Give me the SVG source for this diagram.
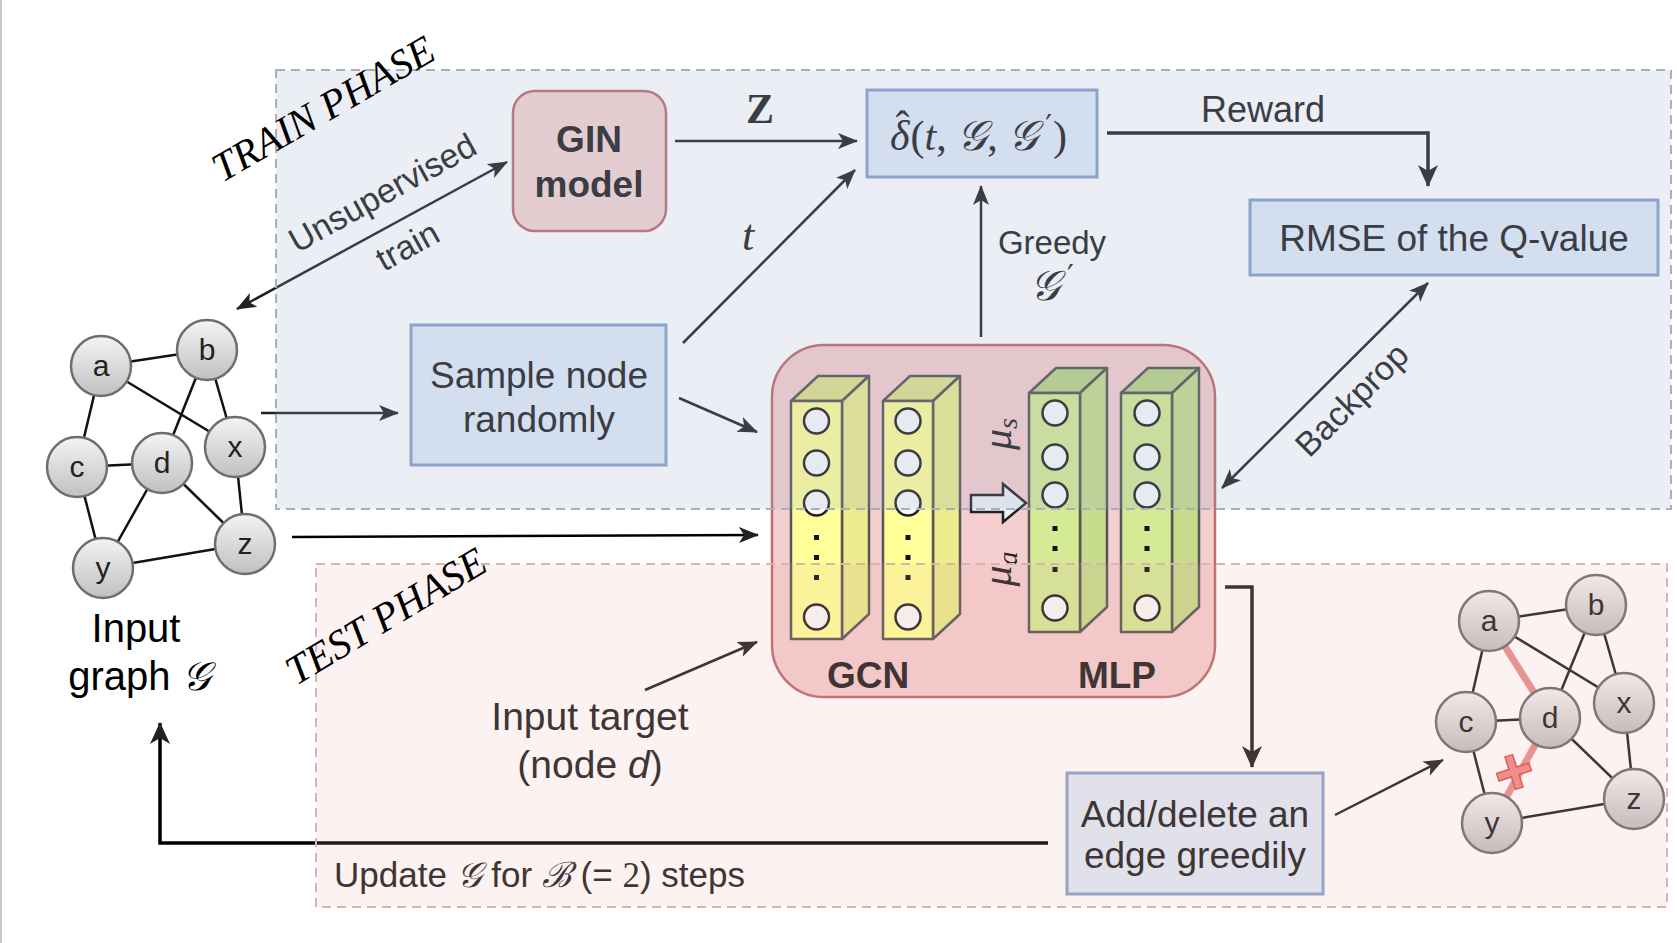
<svg xmlns="http://www.w3.org/2000/svg" width="1677" height="943" viewBox="0 0 1677 943">
<defs>
<style>
.sans{font-family:"Liberation Sans",Arial,sans-serif}
.math{font-family:"Liberation Serif","DejaVu Serif",serif}
.prime{font-family:"DejaVu Sans",sans-serif;font-style:normal}
.lbl{font-family:"Liberation Sans",Arial,sans-serif;font-size:37px;fill:#222;text-anchor:middle}
.phase{font-family:"Liberation Serif","Times New Roman",serif;font-style:italic;font-size:41px;fill:#000}
.conn{fill:none;stroke:#222;stroke-width:2.5}
.thick{stroke-width:3.5}
.blue{fill:#e1ebf9;stroke:#8aa2cc;stroke-width:3}
.edge{stroke:#111;stroke-width:2.5}
.gn{fill:url(#ng);stroke:#6e6e6e;stroke-width:2.5}
.gt{font-family:"Liberation Sans",Arial,sans-serif;font-size:30px;fill:#222;text-anchor:middle}
.col{stroke:#555;stroke-width:2.5;stroke-linejoin:round}
.neuron{fill:#fafafa;stroke:#222;stroke-width:2.5}
.dot{fill:#111}
</style>
<linearGradient id="ng" x1="0" y1="0" x2="0" y2="1">
<stop offset="0" stop-color="#f4f4f4"/>
<stop offset="1" stop-color="#c0c0c0"/>
</linearGradient>
<marker id="ah" markerUnits="userSpaceOnUse" markerWidth="22" markerHeight="18" refX="19" refY="8" orient="auto-start-reverse">
<path d="M0,0 L20,8 L0,16 L5,8 Z" fill="#222"/>
</marker>
<marker id="ahL" markerUnits="userSpaceOnUse" markerWidth="24" markerHeight="22" refX="21" refY="10" orient="auto-start-reverse">
<path d="M0,0 L22,10 L0,20 L6,10 Z" fill="#222"/>
</marker>
</defs>

<rect width="1677" height="943" fill="#fff"/>
<line x1="1" y1="0" x2="1" y2="943" stroke="#c8c8c8" stroke-width="2"/>

<!-- left graph -->
<g id="input-graph">
<g id="edges-left" class="edge">
<line x1="101" y1="366" x2="207" y2="350"/>
<line x1="101" y1="366" x2="77" y2="467"/>
<line x1="101" y1="366" x2="235" y2="447"/>
<line x1="207" y1="350" x2="162" y2="463"/>
<line x1="207" y1="350" x2="235" y2="447"/>
<line x1="77" y1="467" x2="162" y2="463"/>
<line x1="77" y1="467" x2="103" y2="568"/>
<line x1="162" y1="463" x2="103" y2="568"/>
<line x1="162" y1="463" x2="245" y2="544"/>
<line x1="235" y1="447" x2="245" y2="544"/>
<line x1="103" y1="568" x2="245" y2="544"/>
</g>
<g id="L-a"><circle class="gn" cx="101" cy="366" r="30"/><text class="gt" x="101" y="376">a</text></g>
<g id="L-b"><circle class="gn" cx="207" cy="350" r="30"/><text class="gt" x="207" y="360">b</text></g>
<g id="L-x"><circle class="gn" cx="235" cy="447" r="30"/><text class="gt" x="235" y="457">x</text></g>
<g id="L-c"><circle class="gn" cx="77" cy="467" r="30"/><text class="gt" x="77" y="477">c</text></g>
<g id="L-d"><circle class="gn" cx="162" cy="463" r="30"/><text class="gt" x="162" y="473">d</text></g>
<g id="L-z"><circle class="gn" cx="245" cy="544" r="30"/><text class="gt" x="245" y="554">z</text></g>
<g id="L-y"><circle class="gn" cx="103" cy="568" r="30"/><text class="gt" x="103" y="578">y</text></g>
</g>

<g id="input-graph-label" class="sans" font-size="40" fill="#000" text-anchor="middle">
<text x="136" y="642">Input</text>
<text x="139" y="690">graph <tspan class="math" font-style="italic">𝒢</tspan></text>
</g>

<!-- boxes -->
<g id="gin">
<rect x="513" y="91" width="153" height="140" rx="22" fill="#f6d6d4" stroke="#b87070" stroke-width="2.5"/>
<text class="lbl" x="589" y="152" font-weight="bold" font-size="35">GIN</text>
<text class="lbl" x="589" y="197" font-weight="bold" font-size="35">model</text>
</g>

<g id="delta">
<rect class="blue" x="867" y="90" width="230" height="87"/>
<text class="math" x="890" y="150" font-size="42" fill="#222"><tspan font-style="italic">δ</tspan><tspan dx="-14" dy="-10">ˆ</tspan><tspan dx="1" dy="10">(</tspan><tspan font-style="italic">t</tspan>, <tspan font-style="italic">𝒢</tspan>, <tspan font-style="italic">𝒢</tspan><tspan class="prime" font-size="30" dx="7" dy="-14">′</tspan><tspan dx="1" dy="14">)</tspan></text>
</g>

<g id="rmse">
<rect class="blue" x="1250" y="200" width="408" height="75"/>
<text class="lbl" x="1454" y="251">RMSE of the Q-value</text>
</g>

<g id="sample">
<rect class="blue" x="411" y="325" width="255" height="140"/>
<text class="lbl" x="539" y="388">Sample node</text>
<text class="lbl" x="539" y="432">randomly</text>
</g>

<g id="model">
<rect x="772" y="345" width="443" height="352" rx="52" fill="#f5cfcf" stroke="#c06a6a" stroke-width="2.5"/>
<g id="gcn1">
<polygon class="col" points="791,401 818,376 869,376 842,401" fill="#e2e28a"/>
<polygon class="col" points="842,401 869,376 869,614 842,639" fill="#ecec8c"/>
<rect class="col" x="791" y="401" width="51" height="238" fill="#ffff99"/>
<circle class="neuron" cx="816.5" cy="421" r="12.5"/><circle class="neuron" cx="816.5" cy="463" r="12.5"/><circle class="neuron" cx="816.5" cy="503" r="12.5"/><circle class="neuron" cx="816.5" cy="617" r="12.5"/>
<rect class="dot" x="814" y="535" width="5" height="5"/><rect class="dot" x="814" y="555" width="5" height="5"/><rect class="dot" x="814" y="575" width="5" height="5"/>
</g>
<g id="gcn2">
<polygon class="col" points="883,401 910,376 960,376 933,401" fill="#e2e28a"/>
<polygon class="col" points="933,401 960,376 960,614 933,639" fill="#ecec8c"/>
<rect class="col" x="883" y="401" width="50" height="238" fill="#ffff99"/>
<circle class="neuron" cx="908" cy="421" r="12.5"/><circle class="neuron" cx="908" cy="463" r="12.5"/><circle class="neuron" cx="908" cy="503" r="12.5"/><circle class="neuron" cx="908" cy="617" r="12.5"/>
<rect class="dot" x="905.5" y="535" width="5" height="5"/><rect class="dot" x="905.5" y="555" width="5" height="5"/><rect class="dot" x="905.5" y="575" width="5" height="5"/>
</g>
<g id="mlp1">
<polygon class="col" points="1029,393 1056,368 1107,368 1080,393" fill="#bcd488"/>
<polygon class="col" points="1080,393 1107,368 1107,607 1080,632" fill="#c6dc8c"/>
<rect class="col" x="1029" y="393" width="51" height="239" fill="#d4ea94"/>
<circle class="neuron" cx="1055" cy="413" r="12.5"/><circle class="neuron" cx="1055" cy="457" r="12.5"/><circle class="neuron" cx="1055" cy="495" r="12.5"/><circle class="neuron" cx="1055" cy="608" r="12.5"/>
<rect class="dot" x="1052.5" y="526" width="5" height="5"/><rect class="dot" x="1052.5" y="546" width="5" height="5"/><rect class="dot" x="1052.5" y="567" width="5" height="5"/>
</g>
<g id="mlp2">
<polygon class="col" points="1121,393 1148,368 1199,368 1172,393" fill="#bcd488"/>
<polygon class="col" points="1172,393 1199,368 1199,607 1172,632" fill="#c6dc8c"/>
<rect class="col" x="1121" y="393" width="51" height="239" fill="#d4ea94"/>
<circle class="neuron" cx="1147" cy="413" r="12.5"/><circle class="neuron" cx="1147" cy="457" r="12.5"/><circle class="neuron" cx="1147" cy="495" r="12.5"/><circle class="neuron" cx="1147" cy="608" r="12.5"/>
<rect class="dot" x="1144.5" y="526" width="5" height="5"/><rect class="dot" x="1144.5" y="546" width="5" height="5"/><rect class="dot" x="1144.5" y="567" width="5" height="5"/>
</g>
<polygon points="971,495 1003,495 1003,484 1026,503 1003,522 1003,512 971,512" fill="#eef2f8" stroke="#222" stroke-width="2.5" stroke-linejoin="miter"/>
<text class="math" transform="translate(1011,434) rotate(-90)" font-size="42" font-style="italic" fill="#222" text-anchor="middle">μ<tspan font-size="28" dy="6">s</tspan></text>
<text class="math" transform="translate(1011,569) rotate(-90)" font-size="42" font-style="italic" fill="#222" text-anchor="middle">μ<tspan font-size="28" dy="6">a</tspan></text>
<text class="lbl" x="868" y="688" font-weight="bold" font-size="36">GCN</text>
<text class="lbl" x="1117" y="688" font-weight="bold" font-size="36">MLP</text>
</g>

<g id="adddel">
<rect class="blue" x="1067" y="773" width="256" height="121"/>
<text class="lbl" x="1195" y="827" font-size="36">Add/delete an</text>
<text class="lbl" x="1195" y="868" font-size="36">edge greedily</text>
</g>

<!-- right graph -->
<g id="output-graph">
<g id="edges-right" stroke="#222" stroke-width="2.5">
<line x1="1489" y1="621" x2="1596" y2="605"/>
<line x1="1489" y1="621" x2="1466" y2="722"/>
<line x1="1489" y1="621" x2="1624" y2="703"/>
<line x1="1596" y1="605" x2="1550" y2="718"/>
<line x1="1596" y1="605" x2="1624" y2="703"/>
<line x1="1466" y1="722" x2="1550" y2="718"/>
<line x1="1466" y1="722" x2="1492" y2="823"/>
<line x1="1550" y1="718" x2="1634" y2="799"/>
<line x1="1624" y1="703" x2="1634" y2="799"/>
<line x1="1492" y1="823" x2="1634" y2="799"/>
<line x1="1489" y1="621" x2="1550" y2="718" stroke="#e8908c" stroke-width="7"/>
<line x1="1550" y1="718" x2="1492" y2="823" stroke="#e8908c" stroke-width="7"/>
</g>
<path d="M-17,-4 H-4 V-17 H4 V-4 H17 V4 H4 V17 H-4 V4 H-17 Z" transform="translate(1514,772) rotate(-18)" fill="#f28a88" stroke="#d9534f" stroke-width="1.5"/>
<g id="R-a"><circle class="gn" cx="1489" cy="621" r="30"/><text class="gt" x="1489" y="631">a</text></g>
<g id="R-b"><circle class="gn" cx="1596" cy="605" r="30"/><text class="gt" x="1596" y="615">b</text></g>
<g id="R-x"><circle class="gn" cx="1624" cy="703" r="30"/><text class="gt" x="1624" y="713">x</text></g>
<g id="R-c"><circle class="gn" cx="1466" cy="722" r="30"/><text class="gt" x="1466" y="732">c</text></g>
<g id="R-d"><circle class="gn" cx="1550" cy="718" r="30"/><text class="gt" x="1550" y="728">d</text></g>
<g id="R-z"><circle class="gn" cx="1634" cy="799" r="30"/><text class="gt" x="1634" y="809">z</text></g>
<g id="R-y"><circle class="gn" cx="1492" cy="823" r="30"/><text class="gt" x="1492" y="833">y</text></g>
</g>

<!-- connectors -->
<g id="connectors" class="conn">
<path d="M507,162 L237,309" marker-start="url(#ah)" marker-end="url(#ah)"/>
<path d="M675,141 L857,141" marker-end="url(#ah)"/>
<path d="M683,343 L855,170" marker-end="url(#ah)"/>
<path d="M981,337 L981,186" marker-end="url(#ah)"/>
<path class="thick" d="M1107,133 H1428 V186" marker-end="url(#ahL)"/>
<path d="M1428,283 L1222,488" marker-start="url(#ah)" marker-end="url(#ah)"/>
<path d="M261,413 L398,413" marker-end="url(#ah)"/>
<path d="M679,398 L757,432" marker-end="url(#ah)"/>
<path d="M292,537 L758,535" stroke="#000" marker-end="url(#ah)"/>
<path d="M645,690 L757,642" marker-end="url(#ah)"/>
<path class="thick" d="M1225,587 H1252 V767" marker-end="url(#ahL)"/>
<path d="M1335,815 L1443,760" marker-end="url(#ah)"/>
<path class="thick" d="M1048,843 H160 V723" stroke="#000" marker-end="url(#ahL)"/>
</g>

<!-- connector labels -->
<g id="connector-labels" fill="#222">
<text class="sans" font-size="34" transform="translate(388,203) rotate(-29)" text-anchor="middle">Unsupervised</text>
<text class="sans" font-size="34" transform="translate(413,256) rotate(-29)" text-anchor="middle">train</text>
<text class="math" x="760" y="123" font-size="42" font-weight="bold" text-anchor="middle">Z</text>
<text class="math" x="748" y="250" font-size="44" font-style="italic" text-anchor="middle">t</text>
<text class="sans" x="1052" y="254" font-size="33" text-anchor="middle">Greedy</text>
<text class="math" x="1030" y="300" font-size="42" fill="#222"><tspan font-style="italic">𝒢</tspan><tspan class="prime" font-size="30" dx="7" dy="-14">′</tspan></text>
<text class="sans" x="1263" y="122" font-size="36" text-anchor="middle">Reward</text>
<text class="sans" font-size="34" transform="translate(1360,408) rotate(-45)" text-anchor="middle">Backprop</text>
<text class="sans" x="590" y="730" font-size="39" text-anchor="middle">Input target</text>
<text class="sans" x="590" y="778" font-size="39" text-anchor="middle">(node <tspan font-style="italic">d</tspan>)</text>
<text class="sans" x="334" y="887" font-size="35">Update <tspan class="math" font-style="italic">𝒢</tspan> for <tspan class="math" font-style="italic">ℬ</tspan> (= <tspan class="math">2</tspan>) steps</text>
</g>

<!-- phase regions (translucent overlays) -->
<g id="train-phase">
<rect x="276" y="70" width="1395" height="439" fill="#9aa9c8" fill-opacity="0.2" stroke="#aab0ba" stroke-width="2" stroke-dasharray="9 6"/>
</g>
<g id="test-phase">
<rect x="316" y="564" width="1351" height="343" fill="#e4a8a0" fill-opacity="0.15" stroke="#d8b4b0" stroke-width="2" stroke-dasharray="9 6"/>
</g>
<text class="phase" transform="translate(222,183) rotate(-30)">TRAIN PHASE</text>
<text class="phase" transform="translate(296,686) rotate(-31)">TEST PHASE</text>
</svg>
